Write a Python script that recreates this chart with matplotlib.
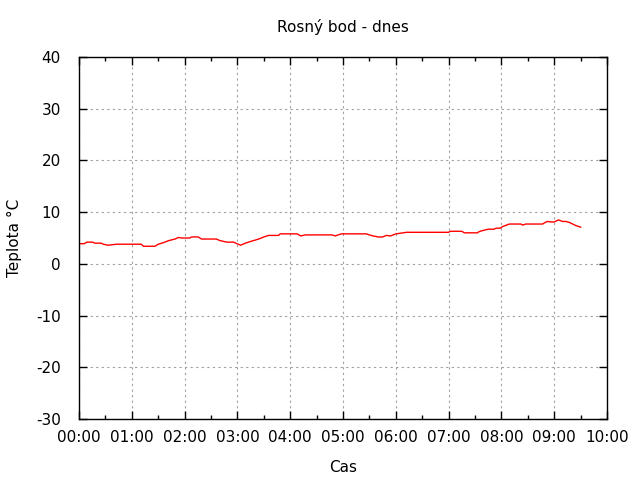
import matplotlib
matplotlib.use('Agg')
import matplotlib.pyplot as plt
from matplotlib.ticker import MultipleLocator, FuncFormatter

plt.rcParams['axes.unicode_minus'] = False

# cas v hodinach od pulnoci a rosny bod ve stupnich
hodiny = [0.0, 0.1, 0.15, 0.26, 0.3, 0.42, 0.46, 0.55, 0.71, 1.18, 1.22, 1.44,
          1.5, 1.6, 1.7, 1.82, 1.88, 1.95, 2.1, 2.13, 2.26, 2.32, 2.6, 2.67,
          2.8, 2.93, 2.99, 3.06, 3.15, 3.24, 3.34, 3.43, 3.5, 3.59, 3.78, 3.81,
          4.13, 4.2, 4.29, 4.79, 4.85, 4.97, 5.44, 5.5, 5.57, 5.67, 5.75, 5.82,
          5.9, 6.0, 6.14, 6.2, 7.0, 7.03, 7.25, 7.3, 7.55, 7.57, 7.63, 7.75,
          7.86, 7.9, 7.98, 8.02, 8.15, 8.37, 8.4, 8.46, 8.78, 8.81, 8.87, 8.94,
          9.0, 9.08, 9.16, 9.22, 9.29, 9.35, 9.41, 9.5]
rosny_bod = [3.9, 3.9, 4.2, 4.2, 4.0, 4.0, 3.8, 3.6, 3.8, 3.8, 3.4, 3.4,
             3.8, 4.1, 4.5, 4.8, 5.1, 5.0, 5.0, 5.2, 5.2, 4.8, 4.8, 4.5,
             4.2, 4.2, 3.9, 3.6, 4.0, 4.3, 4.6, 4.9, 5.2, 5.5, 5.5, 5.8,
             5.8, 5.4, 5.6, 5.6, 5.4, 5.8, 5.8, 5.6, 5.4, 5.2, 5.2, 5.5,
             5.4, 5.8, 6.0, 6.1, 6.1, 6.3, 6.3, 6.0, 6.0, 6.2, 6.4, 6.7,
             6.7, 6.9, 6.9, 7.2, 7.7, 7.7, 7.5, 7.7, 7.7, 7.9, 8.2, 8.1,
             8.1, 8.5, 8.2, 8.2, 8.0, 7.7, 7.4, 7.1]

fig = plt.figure(figsize=(6.4, 4.8), dpi=100)
ax = fig.add_axes([79/640, 61/480, 528/640, 362/480])

ax.plot(hodiny, rosny_bod, color='red', linewidth=1)

ax.set_xlim(0, 10)
ax.set_ylim(-30, 40)
ax.xaxis.set_major_locator(MultipleLocator(1))
ax.xaxis.set_minor_locator(MultipleLocator(0.5))
ax.yaxis.set_major_locator(MultipleLocator(10))
ax.xaxis.set_major_formatter(FuncFormatter(lambda v, p: '%02d:00' % int(round(v))))

ax.tick_params(which='both', direction='in', top=True, right=True, labelsize=11)
ax.tick_params(which='major', length=6, width=1)
ax.tick_params(which='minor', length=3, width=1)
ax.tick_params(axis='x', pad=8)
ax.tick_params(axis='y', pad=13)
ax.grid(True, which='major', color='#a0a0a0', linestyle=(0, (2, 3)), linewidth=0.8)
for s in ax.spines.values():
    s.set_linewidth(1)

ax.set_title('Rosný bod - dnes', fontsize=11, pad=18)
ax.set_xlabel('Cas', fontsize=11, labelpad=11)
ax.set_ylabel('Teplota °C', fontsize=11, labelpad=10)

fig.savefig('out.png')
